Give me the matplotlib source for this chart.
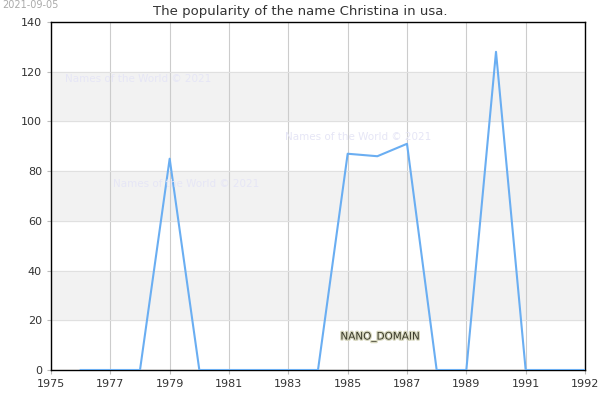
import matplotlib
matplotlib.use("Agg")
import matplotlib.pyplot as plt
import matplotlib.patheffects as pe

# popularity of the name Christina (usa)
years = [1976, 1977, 1978, 1979, 1980, 1981, 1982, 1983, 1984,
         1985, 1986, 1987, 1988, 1989, 1990, 1991, 1992, 1993]
values = [0, 0, 0, 85, 0, 0, 0, 0, 0, 87, 86, 91, 0, 0, 128, 0, 0, 0]
xtick_pos = [1975, 1977, 1979, 1981, 1983, 1985, 1987, 1989, 1991, 1993]
xtick_labels = ['1975', '1977', '1979', '1981', '1983', '1985', '1987', '1989', '1991', '1992']
yticks = [0, 20, 40, 60, 80, 100, 120, 140]

fig = plt.figure(figsize=(6, 4), dpi=100)
ax = fig.add_axes([0.085, 0.075, 0.89, 0.87])

# alternating background bands
for lo in [20, 60, 100]:
    ax.axhspan(lo, lo + 20, color='#f2f2f2', zorder=0)

ax.plot(years, values, color='#6aaef2', lw=1.5, zorder=3)

ax.set_xlim(1975, 1993)
ax.set_ylim(0, 140)
ax.set_xticks(xtick_pos)
ax.set_xticklabels(xtick_labels)
ax.set_yticks(yticks)
ax.tick_params(labelsize=8, colors='#333333', length=3, color='#bbbbbb')
ax.grid(axis='x', color='#cccccc', lw=0.8, zorder=1)
ax.grid(axis='y', color='#e0e0e0', lw=0.8, zorder=1)
for s in ax.spines.values():
    s.set_color('black')
    s.set_linewidth(1)

fig.text(0.5, 1 - 11 / 400, 'The popularity of the name Christina in usa.', fontsize=9.5,
         color='#333333', ha='center', va='center')

# watermarks
for (x, y) in [(65, 79), (113, 184), (285, 137)]:
    fig.text(x / 600, 1 - y / 400, 'Names of the World \u00a9 2021', fontsize=7.5,
             color='#e6e6f6', va='center', ha='left')
fig.text(2 / 600, 1 - 5 / 400, '2021-09-05', fontsize=7, color='#aaaaaa', va='center', ha='left')
fig.text(380 / 600, 1 - 337 / 400, 'NANO_DOMAIN', fontsize=7.5, color='#3a3a2a',
         va='center', ha='center',
         path_effects=[pe.withStroke(linewidth=1.8, foreground='#d8d8c0')])

plt.savefig('out.png')
